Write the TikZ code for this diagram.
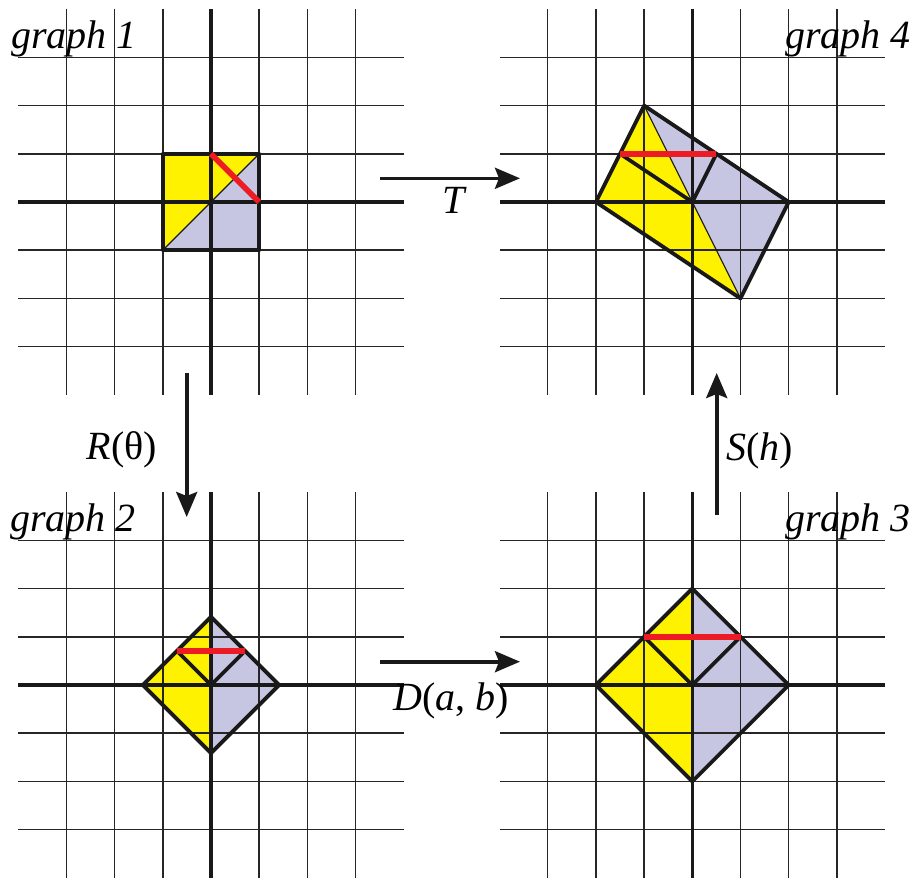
\documentclass[tikz,border=0pt]{standalone}
\usepackage{fontspec}
\setmainfont{Liberation Serif}
\usetikzlibrary{arrows.meta}
\definecolor{shapeYellow}{HTML}{FFF200}
\definecolor{shapeLilac}{HTML}{C6C6E2}
\definecolor{edgeRed}{HTML}{ED1C24}
\tikzset{
  base/.style={font=\fontsize{20}{23}\selectfont, text=black, inner sep=0pt},
  glabel/.style={base, font=\itshape\fontsize{20}{23}\selectfont},
  maplabel/.style={base},
  gridline/.style={line width=0.75pt, draw=black!85},
  axisline/.style={line width=1.8pt, draw=black!90},
  outline/.style={line width=1.9pt, draw=black!90, line join=round},
  thinline/.style={line width=0.6pt, draw=black!90},
  redline/.style={line width=2.8pt, draw=edgeRed},
  maparrow/.style={-{Stealth[length=12.5pt,width=10.5pt,inset=2pt]}, line width=1.8pt, draw=black!90},
  plotgrid/.pic={
    \foreach \k in {-3,-2,-1,1,2,3} {
      \draw[gridline] (\k,-4) -- (\k,4);
      \draw[gridline] (-4,\k) -- (4,\k);
    }
    \draw[axisline] (-4,0) -- (4,0);
    \draw[axisline] (0,-4) -- (0,4);
  },
}

\begin{document}
\begin{tikzpicture}[x=0.5pt,y=-0.5pt]
  \useasboundingbox (0,0) rectangle (917,878);
  \coordinate (g1) at (211,202);
  \coordinate (g2) at (211,685);
  \coordinate (g3) at (692.3,685);
  \coordinate (g4) at (692.3,202);

  % graph 1
  \begin{scope}[shift={(g1)},x=24.1pt,y=24.1pt]
    \fill[shapeYellow] (-1,-1) -- (-1,1) -- (1,1) -- cycle;
    \fill[shapeLilac] (-1,-1) -- (1,-1) -- (1,1) -- cycle;
    \pic {plotgrid};
    \draw[thinline] (-1,-1) -- (1,1);
    \draw[outline] (-1,-1) rectangle (1,1);
    \draw[redline] (0,1) -- (1,0);
  \end{scope}

  % graph 2
  \begin{scope}[shift={(g2)},x=24.1pt,y=24.1pt]
    \fill[shapeYellow] (0,1.4142) -- (-1.4142,0) -- (0,-1.4142) -- cycle;
    \fill[shapeLilac] (0,1.4142) -- (1.4142,0) -- (0,-1.4142) -- cycle;
    \pic {plotgrid};
    \draw[outline] (0,1.4142) -- (1.4142,0) -- (0,-1.4142) -- (-1.4142,0) -- cycle;
    \draw[outline] (-0.7071,0.7071) -- (0,0) -- (0.7071,0.7071);
    \draw[redline] (-0.7071,0.7071) -- (0.7071,0.7071);
  \end{scope}

  % graph 3
  \begin{scope}[shift={(g3)},x=24.1pt,y=24.1pt]
    \fill[shapeYellow] (0,2) -- (-2,0) -- (0,-2) -- cycle;
    \fill[shapeLilac] (0,2) -- (2,0) -- (0,-2) -- cycle;
    \pic {plotgrid};
    \draw[outline] (0,2) -- (2,0) -- (0,-2) -- (-2,0) -- cycle;
    \draw[outline] (-1,1) -- (0,0) -- (1,1);
    \draw[redline] (-1,1) -- (1,1);
  \end{scope}

  % graph 4
  \begin{scope}[shift={(g4)},x=24.1pt,y=24.1pt]
    \fill[shapeYellow] (-1,2) -- (-2,0) -- (1,-2) -- cycle;
    \fill[shapeLilac] (-1,2) -- (2,0) -- (1,-2) -- cycle;
    \pic {plotgrid};
    \draw[thinline] (-1,2) -- (1,-2);
    \draw[outline] (-1,2) -- (2,0) -- (1,-2) -- (-2,0) -- cycle;
    \draw[outline] (-1.5,1) -- (0,0) -- (0.5,1);
    \draw[redline] (-1.5,1) -- (0.5,1);
  \end{scope}

  \node[glabel,anchor=base west] (lab1) at (11,48) {graph 1};
  \node[glabel,anchor=base west] (lab2) at (10,531.5) {graph 2};
  \node[glabel,anchor=base east] (lab3) at (911,531.5) {graph 3};
  \node[glabel,anchor=base east] (lab4) at (911,48) {graph 4};

  \coordinate (t-from) at (380,178.3);
  \coordinate (t-to) at (520,178.3);
  \coordinate (r-from) at (186.7,373);
  \coordinate (r-to) at (186.7,517);
  \coordinate (d-from) at (380,661.7);
  \coordinate (d-to) at (520,661.7);
  \coordinate (s-from) at (716.7,515);
  \coordinate (s-to) at (716.7,373);

  \draw[maparrow] (t-from) -- (t-to);
  \draw[maparrow] (r-from) -- (r-to);
  \draw[maparrow] (d-from) -- (d-to);
  \draw[maparrow] (s-from) -- (s-to);

  \node[maplabel,anchor=base] (tlab) at (455,213) {\textit{T}};
  \node[maplabel,anchor=base] (rlab) at (122,459) {\textit{R}(θ)};
  \node[maplabel,anchor=base] (dlab) at (451.5,710) {\textit{D}(\textit{a}, \textit{b})};
  \node[maplabel,anchor=base west] (slab) at (726,460) {\textit{S}(\textit{h})};
\end{tikzpicture}
\end{document}
